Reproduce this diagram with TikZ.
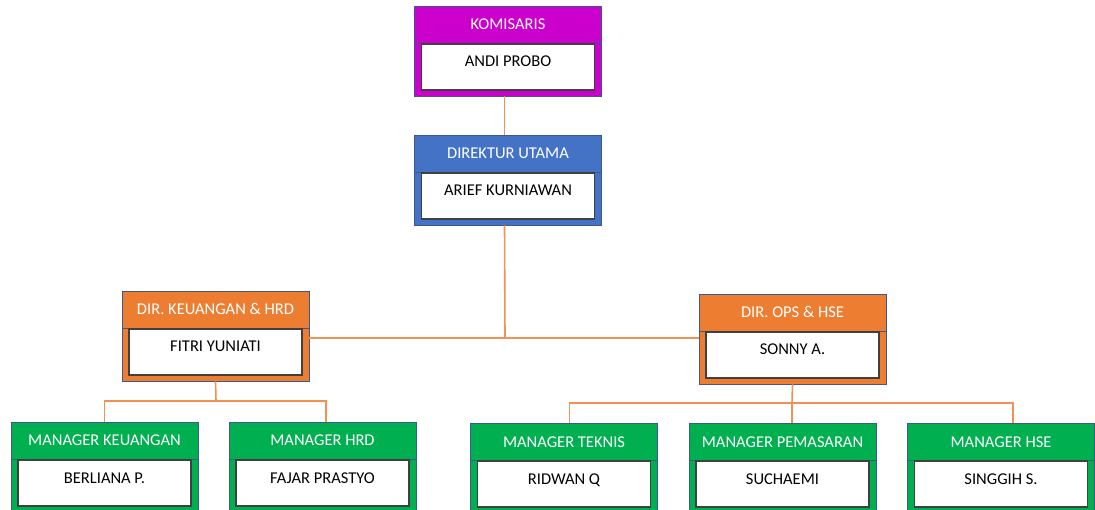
\documentclass[tikz,border=0pt]{standalone}
\usepackage{fontspec}
\setmainfont{Carlito}
\usepackage{tikz}
\usetikzlibrary{positioning}
\definecolor{Magenta}{RGB}{204,0,204}
\definecolor{Blue}{RGB}{68,114,196}
\definecolor{Orange}{RGB}{237,125,49}
\definecolor{Green}{RGB}{0,176,80}
\definecolor{BoxBorder}{RGB}{62,88,140}
\definecolor{NameBorder}{RGB}{64,64,64}
\definecolor{LineColor}{RGB}{241,145,82}
\tikzset{
    outerbox/.style={draw=BoxBorder, line width=0.9pt, minimum width=187pt, minimum height=90pt, inner sep=0pt},
    headbox/.style={draw=BoxBorder, line width=0.9pt, minimum width=187pt, minimum height=37pt, inner sep=0pt, anchor=north, text=white, text height=11pt, text depth=0pt},
    namebox/.style={draw=NameBorder, fill=white, line width=1.1pt, minimum width=173pt, inner sep=0pt, text=black, text height=23pt, text depth=23pt},
    conn/.style={draw=LineColor, line width=1.6pt}
}

\begin{document}
\begin{tikzpicture}[x=1pt, y=-1pt, font=\fontsize{16.5}{19}\selectfont]
    \useasboundingbox (0,0) rectangle (1095,510);

    \node[outerbox, fill=Magenta] (kom) at (508,51) {};
    \node[headbox, fill=Magenta] (komhead) at (kom.north) {KOMISARIS};
    \node[namebox] (komname) at ([yshift=-16pt]kom.center) {ANDI PROBO};

    \node[outerbox, fill=Blue] (dir) at (508,180) {};
    \node[headbox, fill=Blue] (dirhead) at (dir.north) {DIREKTUR UTAMA};
    \node[namebox] (dirname) at ([yshift=-16pt]dir.center) {ARIEF KURNIAWAN};

    \node[outerbox, fill=Orange] (keu) at (215.5,336) {};
    \node[headbox, fill=Orange] (keuhead) at (keu.north) {DIR. KEUANGAN \& HRD};
    \node[namebox] (keuname) at ([yshift=-16pt]keu.center) {FITRI YUNIATI};

    \node[outerbox, fill=Orange] (ops) at (792.5,339) {};
    \node[headbox, fill=Orange] (opshead) at (ops.north) {DIR. OPS \& HSE};
    \node[namebox] (opsname) at ([yshift=-16pt]ops.center) {SONNY A.};

    \node[outerbox, fill=Green] (mkeu) at (104.5,467) {};
    \node[headbox, fill=Green] (mkeuhead) at (mkeu.north) {MANAGER KEUANGAN};
    \node[namebox] (mkeuname) at ([yshift=-16pt]mkeu.center) {BERLIANA P.};

    \node[outerbox, fill=Green] (mhrd) at (322.5,467) {};
    \node[headbox, fill=Green] (mhrdhead) at (mhrd.north) {MANAGER HRD};
    \node[namebox] (mhrdname) at ([yshift=-16pt]mhrd.center) {FAJAR PRASTYO};

    \node[outerbox, fill=Green] (mtek) at (564,468) {};
    \node[headbox, fill=Green] (mtekhead) at (mtek.north) {MANAGER TEKNIS};
    \node[namebox] (mtekname) at ([yshift=-16pt]mtek.center) {RIDWAN Q};

    \node[outerbox, fill=Green] (mpem) at (782.5,468) {};
    \node[headbox, fill=Green] (mpemhead) at (mpem.north) {MANAGER PEMASARAN};
    \node[namebox] (mpemname) at ([yshift=-16pt]mpem.center) {SUCHAEMI};

    \node[outerbox, fill=Green] (mhse) at (1001,468) {};
    \node[headbox, fill=Green] (mhsehead) at (mhse.north) {MANAGER HSE};
    \node[namebox] (mhsename) at ([yshift=-16pt]mhse.center) {SINGGIH S.};

    \coordinate (bus) at (505,338);
    \coordinate (keujoin) at (216,401);
    \coordinate (opsjoin) at (792,403);
    \coordinate (hrdtop) at ([xshift=3.5pt]mhrd.north);
    \coordinate (tektop) at ([xshift=5.5pt]mtek.north);
    \coordinate (hsetop) at ([xshift=12pt]mhse.north);

    \draw[conn] ([xshift=-3.5pt]kom.south) -- ([xshift=-3.5pt]dir.north);
    \draw[conn] ([xshift=-3.5pt]dir.south) -- (bus);
    \draw[conn] (keu.east |- bus) -- (ops.west |- bus);

    \draw[conn] (keu.south) -- (keujoin);
    \draw[conn] (mkeu.north) -- (mkeu.north |- keujoin) -- (hrdtop |- keujoin) -- (hrdtop);

    \draw[conn] (ops.south) -- (opsjoin);
    \draw[conn] (tektop) -- (tektop |- opsjoin) -- (hsetop |- opsjoin) -- (hsetop);
    \draw[conn] (opsjoin) -- (opsjoin |- mpem.north);
\end{tikzpicture}
\end{document}
